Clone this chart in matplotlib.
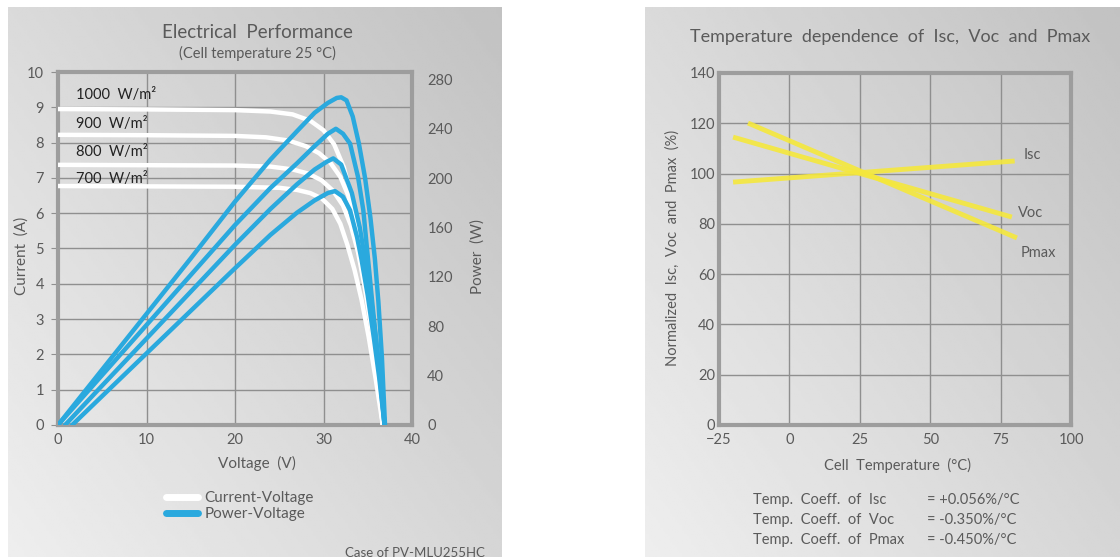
import matplotlib.pyplot as plt
import numpy as np

plt.rcParams['font.family'] = ['Lato', 'DejaVu Sans']

W, H = 1120, 557

# ---- I-V curves (current in A vs voltage in V)
iv_v_1000 = [0, 10, 20, 24, 26.5, 28.5, 30.0, 31.2, 32.3, 33.3, 34.1, 35.0, 35.8, 36.3, 36.7]
iv_i_1000 = [8.95, 8.94, 8.92, 8.88, 8.80, 8.62, 8.35, 7.95, 7.30, 6.30, 5.10, 3.60, 2.20, 1.10, 0]
iv_v_900 = [0, 10, 20, 23.5, 26, 28, 29.5, 30.8, 31.9, 32.8, 33.7, 34.6, 35.4, 36.1, 36.7]
iv_i_900 = [8.22, 8.21, 8.19, 8.15, 8.06, 7.90, 7.70, 7.42, 7.03, 6.50, 5.60, 4.30, 2.90, 1.50, 0]
iv_v_800 = [0, 10, 20, 24, 26.5, 28.3, 29.8, 31.1, 32.2, 33.1, 33.9, 34.7, 35.5, 36.1, 36.7]
iv_i_800 = [7.37, 7.36, 7.35, 7.32, 7.24, 7.12, 6.93, 6.63, 6.22, 5.65, 4.90, 3.85, 2.60, 1.40, 0]
iv_v_700 = [0, 10, 20, 25, 27, 28.5, 29.8, 31.0, 31.9, 32.7, 33.5, 34.3, 35.1, 35.9, 36.7]
iv_i_700 = [6.77, 6.76, 6.75, 6.72, 6.66, 6.57, 6.42, 6.12, 5.70, 5.10, 4.40, 3.55, 2.50, 1.30, 0]

# ---- P-V curves (power in W vs voltage in V)
pv_v_1000 = [0, 5, 10, 15, 20, 24, 27, 29, 30.5, 31.5, 32.0, 32.6, 33.3, 34.0, 34.7, 35.3, 35.8, 36.2, 36.6, 36.95]
pv_p_1000 = [0, 45, 90, 135, 181, 215, 238, 253, 261, 265, 265.5, 263, 250, 228, 200, 168, 135, 100, 55, 0]
pv_v_900 = [0, 5, 10, 15, 20, 24, 27, 29, 30.5, 31.4, 32.2, 33.0, 33.9, 34.5, 34.9, 35.5, 36.2, 36.9]
pv_p_900 = [0, 40.5, 81, 121.5, 162, 192, 212, 226, 236, 240, 236, 228, 201, 174, 144, 100, 50, 0]
pv_v_800 = [0.8, 5, 10, 15, 20, 24, 27, 29, 30.3, 31.1, 32.0, 33.2, 34.1, 34.7, 35.3, 35.9, 36.4, 36.9]
pv_p_800 = [0, 32, 70, 108, 146, 175, 195, 207, 213, 216, 211, 188, 160, 134, 105, 72, 40, 0]
pv_v_700 = [1.6, 5, 10, 15, 20, 24, 27, 29, 30.5, 31.3, 32.2, 33.0, 33.8, 34.3, 35.0, 35.7, 36.3, 36.9]
pv_p_700 = [0, 23.5, 58, 92.5, 127, 154, 172, 182, 188, 189.5, 185, 174, 152, 134, 105, 70, 38, 0]

irr_labels = ['1000  W/m²', '900  W/m²', '800  W/m²', '700  W/m²']

# ---- temperature dependence (normalized %)
t_isc = [-20, 80]
n_isc = [96.6, 105.0]
t_voc = [-20, 79]
n_voc = [114.5, 82.7]
t_pmax = [-14.7, 80.8]
n_pmax = [120.1, 74.4]

coeff_names = ['Isc', 'Voc', 'Pmax']
coeff_values = ['+0.056%/°C', '-0.350%/°C', '-0.450%/°C']

TXT = '#5a5a5a'
GRID = '#8f8f8f'
SPINE = '#9d9d9d'
BLUE = '#2aa9de'
YEL = '#f5e83c'


def fx(x):
    return x / W


def fy(y):
    return 1 - y / H


fig = plt.figure(figsize=(11.2, 5.57), dpi=100)
fig.patch.set_facecolor('white')

# gradient panels behind everything (light bottom-left, darker top-right)
bg = fig.add_axes([0, 0, 1, 1], zorder=-5)
bg.set_xlim(0, W)
bg.set_ylim(H, 0)
bg.axis('off')
gx, gy = np.meshgrid(np.linspace(0, 1, 200), np.linspace(0, 1, 200))
shade = 0.55 * gx + 0.45 * (1 - gy)
level = (238 - 44 * shade) / 255.0
bg.imshow(level, cmap='gray', vmin=0, vmax=1, extent=(8, 502, H, 7), aspect='auto')
bg.imshow(level, cmap='gray', vmin=0, vmax=1, extent=(645, W, H, 7), aspect='auto')


def style_axes(a):
    a.set_facecolor('none')
    for s in a.spines.values():
        s.set_color(SPINE)
        s.set_linewidth(3)
    a.grid(True, color=GRID, linewidth=1)
    a.set_axisbelow(True)


# ================= left chart =================
ax = fig.add_axes([fx(58), fy(425), fx(412) - fx(58), fy(72) - fy(425)])
style_axes(ax)
ax.set_xlim(0, 40)
ax.set_ylim(0, 10)
ax.set_xticks([0, 10, 20, 30, 40])
ax.set_yticks(range(0, 11))
ax.tick_params(axis='x', length=0, pad=6, labelsize=10.5, labelcolor=TXT)
ax.tick_params(axis='y', left=False, right=True, direction='out', length=5,
               color=GRID, pad=5, labelsize=10.5, labelcolor=TXT)

iv_sets = [(iv_v_1000, iv_i_1000), (iv_v_900, iv_i_900), (iv_v_800, iv_i_800), (iv_v_700, iv_i_700)]
wl = None
for v, i in iv_sets:
    wl, = ax.plot(v, i, color='white', lw=3.2, solid_capstyle='round', zorder=3)

ax2 = ax.twinx()
ax2.set_ylim(0, 286)
ax2.set_yticks(range(0, 281, 40))
ax2.tick_params(axis='y', length=0, pad=11, labelsize=10.5, labelcolor=TXT)
for s in ax2.spines.values():
    s.set_visible(False)
pv_sets = [(pv_v_1000, pv_p_1000), (pv_v_900, pv_p_900), (pv_v_800, pv_p_800), (pv_v_700, pv_p_700)]
bl = None
for v, p in pv_sets:
    bl, = ax2.plot(v, p, color=BLUE, lw=3.2, solid_capstyle='round', solid_joinstyle='round', zorder=4)

for lab, y in zip(irr_labels, [95, 124, 152, 179]):
    fig.text(fx(76), fy(y), lab, fontsize=10.5, color='#222222', va='center', ha='left')

fig.text(fx(257), fy(33), 'Electrical  Performance', fontsize=13.5, color=TXT, ha='center', va='center')
fig.text(fx(257), fy(53), '(Cell temperature 25 °C)', fontsize=10.5, color=TXT, ha='center', va='center')
fig.text(fx(257), fy(463), 'Voltage  (V)', fontsize=11, color=TXT, ha='center', va='center')
fig.text(fx(22), fy(256), 'Current  (A)', fontsize=11, color=TXT, ha='center', va='center', rotation=90)
fig.text(fx(478), fy(256), 'Power  (W)', fontsize=11, color=TXT, ha='center', va='center', rotation=90)

leg = ax.legend([wl, bl], ['Current-Voltage', 'Power-Voltage'], loc='upper left',
                bbox_to_anchor=(fx(166), fy(491)), bbox_transform=fig.transFigure,
                frameon=False, fontsize=11, handlelength=2.1, handletextpad=0.4,
                labelspacing=0.15, borderaxespad=0, borderpad=0)
for t in leg.get_texts():
    t.set_color(TXT)
for h in leg.legend_handles:
    h.set_linewidth(5)

fig.text(fx(485), fy(553), 'Case of PV-MLU255HC', fontsize=9.5, color=TXT, ha='right', va='center')

# ================= right chart =================
bx = fig.add_axes([fx(719), fy(425), fx(1071) - fx(719), fy(73) - fy(425)])
style_axes(bx)
bx.set_xlim(-25, 100)
bx.set_ylim(0, 140)
bx.set_xticks([-25, 0, 25, 50, 75, 100])
bx.set_yticks(range(0, 141, 20))
bx.tick_params(axis='x', length=0, pad=6, labelsize=10.5, labelcolor=TXT)
bx.tick_params(axis='y', length=0, pad=3, labelsize=10.5, labelcolor=TXT)

for t, n in [(t_isc, n_isc), (t_voc, n_voc), (t_pmax, n_pmax)]:
    bx.plot(t, n, color=YEL, lw=3.5, alpha=0.9, solid_capstyle='butt', zorder=3)

fig.text(fx(1024), fy(155), 'Isc', fontsize=10.5, color=TXT, ha='left', va='center')
fig.text(fx(1018), fy(213), 'Voc', fontsize=10.5, color=TXT, ha='left', va='center')
fig.text(fx(1021), fy(253), 'Pmax', fontsize=10.5, color=TXT, ha='left', va='center')

fig.text(fx(890), fy(37), 'Temperature  dependence  of  Isc,  Voc  and  Pmax', fontsize=13,
         color=TXT, ha='center', va='center')
fig.text(fx(897), fy(465), 'Cell  Temperature  (°C)', fontsize=10.5, color=TXT, ha='center', va='center')
fig.text(fx(673), fy(248), 'Normalized  Isc,  Voc  and  Pmax  (%)', fontsize=10.5, color=TXT,
         ha='center', va='center', rotation=90)

for k, (name, val) in enumerate(zip(coeff_names, coeff_values)):
    y = 500 + 20 * k
    fig.text(fx(753), fy(y), 'Temp.  Coeff.  of  ' + name, fontsize=10.5, color=TXT, ha='left', va='center')
    fig.text(fx(927), fy(y), '= ' + val, fontsize=10.5, color=TXT, ha='left', va='center')

fig.savefig('out.png', dpi=100)
